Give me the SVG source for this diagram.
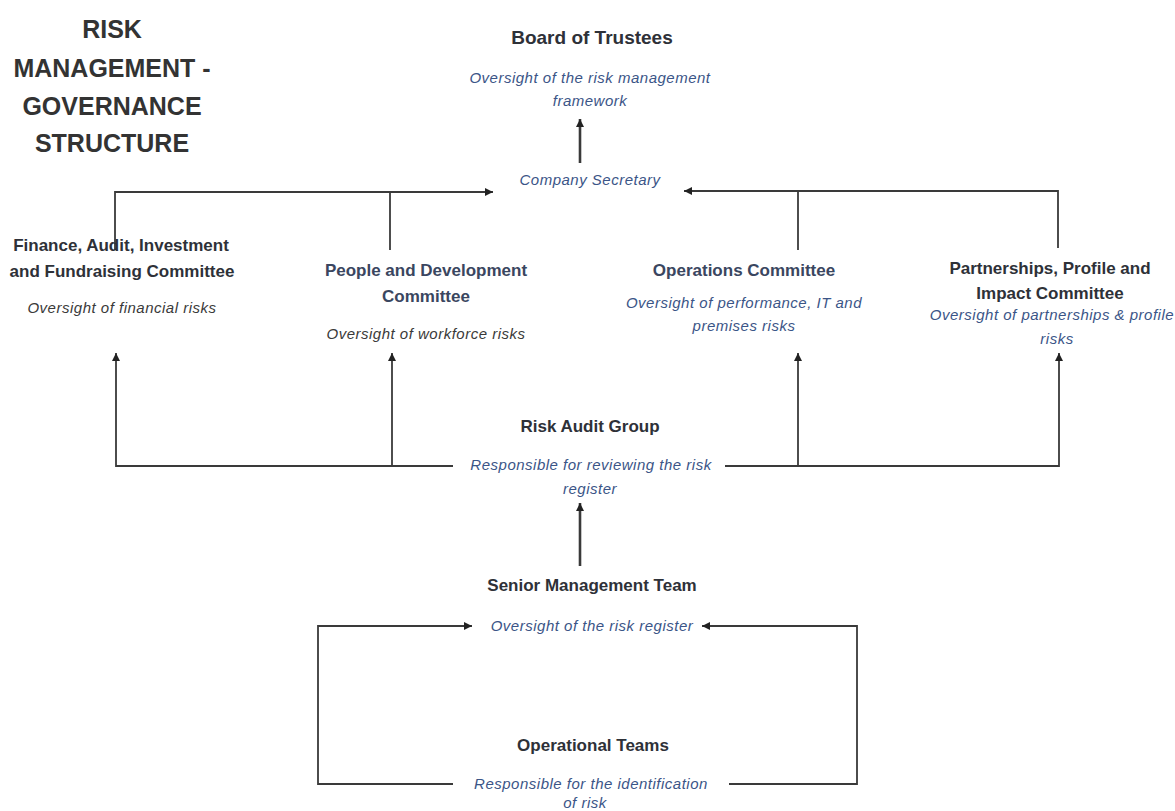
<svg xmlns="http://www.w3.org/2000/svg" width="1175" height="811" viewBox="0 0 1175 811">
<style>
.title{font-family:"Liberation Sans",Arial,sans-serif;font-weight:bold;font-size:25px;fill:#333333;text-anchor:middle}
.h{font-family:"Liberation Sans",Arial,sans-serif;font-weight:bold;font-size:17px;fill:#2e3138;text-anchor:middle}
.hb{fill:#3a4660}
.i{font-family:"Liberation Sans",Arial,sans-serif;font-style:italic;font-size:15px;letter-spacing:0.5px;fill:#3b5587;text-anchor:middle}
.ig{fill:#3a3a3a}
.c{fill:none;stroke:#3a3a3a;stroke-width:1.8}
.ct{stroke-width:2.6}
</style>
<defs>
<marker id="ah" markerUnits="userSpaceOnUse" markerWidth="9" markerHeight="9" refX="8" refY="4" orient="auto">
<path d="M0,0 L8,4 L0,8 z" fill="#222222"/>
</marker>
</defs>
<rect width="1175" height="811" fill="#ffffff"/>

<g id="title">
<text class="title" x="112" y="38">RISK</text>
<text class="title" x="112" y="77">MANAGEMENT -</text>
<text class="title" x="112" y="115">GOVERNANCE</text>
<text class="title" x="112" y="152">STRUCTURE</text>
</g>

<g id="connectors">
<path class="c ct" d="M580,163 V119" marker-end="url(#ah)"/>
<path class="c" d="M115,250 V192 H493" marker-end="url(#ah)"/>
<path class="c" d="M390,250 V192"/>
<path class="c" d="M1058,248 V191 H684" marker-end="url(#ah)"/>
<path class="c" d="M798,250 V191"/>
<path class="c" d="M453,466 H116 V353" marker-end="url(#ah)"/>
<path class="c" d="M392,466 V353" marker-end="url(#ah)"/>
<path class="c" d="M725,466 H1059 V353" marker-end="url(#ah)"/>
<path class="c" d="M798,466 V353" marker-end="url(#ah)"/>
<path class="c ct" d="M580,566 V503" marker-end="url(#ah)"/>
<path class="c" d="M453,784 H318 V626 H472" marker-end="url(#ah)"/>
<path class="c" d="M729,784 H857 V626 H702" marker-end="url(#ah)"/>
</g>

<g id="board">
<text class="h" x="592" y="44" style="font-size:19px">Board of Trustees</text>
<text class="i" x="590" y="83">Oversight of the risk management</text>
<text class="i" x="590" y="106">framework</text>
</g>

<g id="company-secretary">
<text class="i" x="590" y="185">Company Secretary</text>
</g>

<g id="finance">
<text class="h" x="121" y="251">Finance, Audit, Investment</text>
<text class="h" x="122" y="277">and Fundraising Committee</text>
<text class="i ig" x="122" y="313">Oversight of financial risks</text>
</g>

<g id="people">
<text class="h hb" x="426" y="276">People and Development</text>
<text class="h hb" x="426" y="302">Committee</text>
<text class="i ig" x="426" y="339">Oversight of workforce risks</text>
</g>

<g id="operations">
<text class="h hb" x="744" y="276">Operations Committee</text>
<text class="i" x="744" y="308">Oversight of performance, IT and</text>
<text class="i" x="744" y="331">premises risks</text>
</g>

<g id="partnerships">
<text class="h" x="1050" y="274">Partnerships, Profile and</text>
<text class="h" x="1050" y="299">Impact Committee</text>
<text class="i" x="1052" y="320">Oversight of partnerships &amp; profile</text>
<text class="i" x="1057" y="344">risks</text>
</g>

<g id="risk-audit-group">
<text class="h" x="590" y="432">Risk Audit Group</text>
<text class="i" x="591" y="470">Responsible for reviewing the risk</text>
<text class="i" x="590" y="494">register</text>
</g>

<g id="senior-management-team">
<text class="h" x="592" y="591">Senior Management Team</text>
<text class="i" x="592" y="631">Oversight of the risk register</text>
</g>

<g id="operational-teams">
<text class="h" x="593" y="751">Operational Teams</text>
<text class="i" x="591" y="789">Responsible for the identification</text>
<text class="i" x="585" y="808">of risk</text>
</g>
</svg>
